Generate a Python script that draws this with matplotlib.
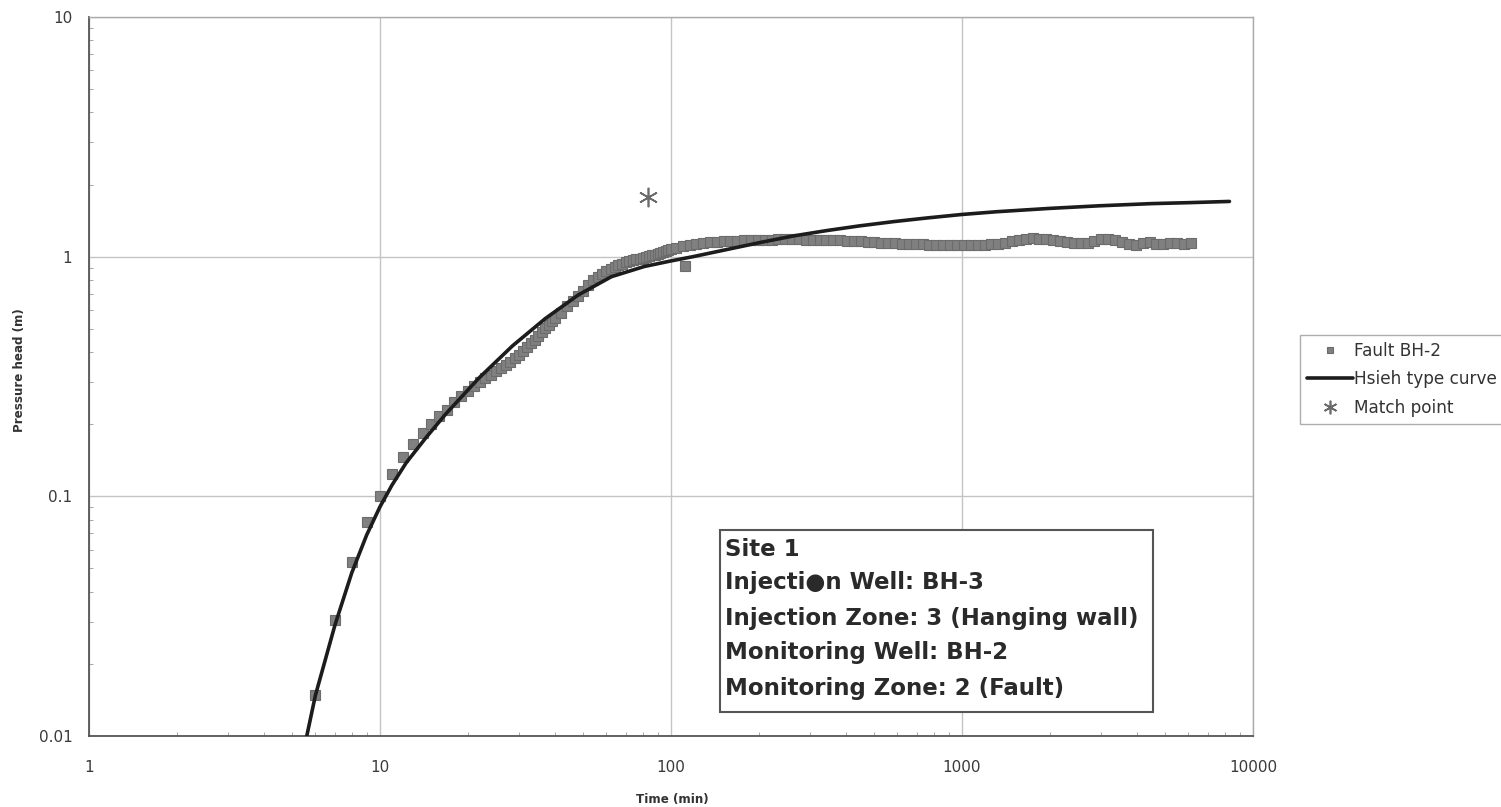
import matplotlib
matplotlib.use('Agg')
import matplotlib.pyplot as plt
from matplotlib.patches import Rectangle

fault_t = [6, 7, 8, 9, 10, 11, 12, 13, 14, 15, 16, 17, 18, 19, 20,
           21, 22, 23, 24, 25, 26, 27, 28, 29, 30, 31, 32, 33, 34, 35,
           36, 37, 38, 39, 40, 42, 44, 46, 48, 50, 52, 54, 56, 58, 60,
           62, 64, 66, 68, 70, 72, 74, 76, 78, 80, 82, 84, 86, 88, 90,
           92, 94, 96, 98, 100, 104, 110, 112, 116, 122, 129, 136, 144, 152, 160,
           169, 178, 188, 199, 210, 222, 234, 247, 261, 276, 291, 307, 324, 342, 361,
           381, 403, 425, 449, 474, 500, 528, 558, 589, 622, 657, 693, 732, 773, 816,
           862, 910, 961, 1015, 1071, 1131, 1195, 1261, 1332, 1406, 1485, 1568, 1656, 1748, 1846,
           1949, 2058, 2173, 2295, 2423, 2559, 2702, 2853, 3012, 3181, 3359, 3546, 3745, 3954, 4175,
           4409, 4655, 4916, 5190, 5481, 5787, 6100]
fault_h = [0.0148, 0.0306, 0.0532, 0.0782, 0.100, 0.124, 0.1465, 0.1655, 0.183, 0.201, 0.216, 0.230, 0.248, 0.262, 0.275,
           0.290, 0.301, 0.312, 0.322, 0.332, 0.342, 0.352, 0.365, 0.378, 0.390, 0.405, 0.420, 0.435, 0.450, 0.465,
           0.485, 0.503, 0.520, 0.540, 0.555, 0.583, 0.620, 0.655, 0.688, 0.720, 0.760, 0.800, 0.825, 0.850, 0.870,
           0.889, 0.905, 0.920, 0.935, 0.948, 0.958, 0.966, 0.974, 0.982, 0.990, 0.998, 1.005, 1.012, 1.020, 1.028,
           1.036, 1.045, 1.055, 1.065, 1.080, 1.090, 1.105, 0.910, 1.120, 1.130, 1.140, 1.150, 1.155, 1.160, 1.165,
           1.168, 1.170, 1.172, 1.174, 1.176, 1.178, 1.180, 1.180, 1.180, 1.180, 1.178, 1.176, 1.175, 1.174, 1.172,
           1.170, 1.167, 1.164, 1.160, 1.155, 1.150, 1.145, 1.140, 1.136, 1.132, 1.129, 1.126, 1.124, 1.120, 1.119,
           1.118, 1.118, 1.118, 1.119, 1.120, 1.121, 1.122, 1.124, 1.128, 1.140, 1.158, 1.175, 1.187, 1.193, 1.190,
           1.180, 1.170, 1.162, 1.150, 1.140, 1.135, 1.145, 1.165, 1.183, 1.185, 1.175, 1.150, 1.125, 1.120, 1.145,
           1.150, 1.130, 1.130, 1.145, 1.140, 1.130, 1.135]

# Hsieh type curve
curve_t = [5.5, 6.0, 7.0, 8.0, 9.0, 10.0, 11.0, 12.3, 14.4, 16.9, 21.9, 28.5, 37, 48, 62.4,
           81, 100, 119, 155, 202, 263, 343, 446, 581, 756, 1000, 1316, 2000, 2954, 4500,
           6000, 8300]
curve_h = [0.0090, 0.0148, 0.0290, 0.0480, 0.0690, 0.0905, 0.1115, 0.138, 0.176, 0.222, 0.312, 0.424, 0.552, 0.692, 0.825,
           0.910, 0.960, 1.000, 1.070, 1.145, 1.220, 1.285, 1.345, 1.400, 1.450, 1.500, 1.540, 1.590, 1.630, 1.665,
           1.680, 1.700]

# match point
match_t = [83.6]
match_h = [1.78]

x_ticks = [1, 10, 100, 1000, 10000]
x_labels = ['1', '10', '100', '1000', '10000']
y_ticks = [0.01, 0.1, 1, 10]
y_labels = ['0.01', '0.1', '1', '10']

info_lines = ['Site 1',
              'Injecti\u25cfn Well: BH-3',
              'Injection Zone: 3 (Hanging wall)',
              'Monitoring Well: BH-2',
              'Monitoring Zone: 2 (Fault)']

W, H = 1501, 807
plt.rcParams['font.family'] = ['DejaVu Sans']
fig = plt.figure(figsize=(W / 100, H / 100), dpi=100)
fig.patch.set_facecolor('white')

ax = fig.add_axes([89 / W, 1 - 736 / H, (1253 - 89) / W, (736 - 17) / H])
ax.set_xscale('log')
ax.set_yscale('log')
ax.set_xlim(1, 10000)
ax.set_ylim(0.01, 10)

ax.grid(True, which='major', color='#c4c4c4', linewidth=1.0)
ax.set_axisbelow(True)

ax.plot(fault_t, fault_h, linestyle='none', marker='s', markersize=6.6,
        markerfacecolor='#808080', markeredgecolor='#6c6c6c', markeredgewidth=0.8,
        label='Fault BH-2', zorder=3)
ax.plot(curve_t, curve_h, color='#1c1c1c', linewidth=2.6, label='Hsieh type curve',
        solid_capstyle='round', solid_joinstyle='round', zorder=4)
ax.plot(match_t, match_h, linestyle='none', marker=(6, 2, 0), markersize=14,
        markeredgecolor='#6a6a6a', markeredgewidth=1.2, label='Match point', zorder=5)

ax.set_xticks(x_ticks, labels=x_labels)
ax.set_yticks(y_ticks, labels=y_labels)
ax.tick_params(which='major', direction='in', length=0, labelsize=11, labelcolor='#3a3a3a')
ax.tick_params(axis='x', which='major', pad=17)
ax.tick_params(axis='y', which='major', pad=12)
ax.tick_params(which='minor', direction='in', length=3, color='#999999', labelleft=False, labelbottom=False)
ax.xaxis.set_minor_formatter(plt.NullFormatter())
ax.yaxis.set_minor_formatter(plt.NullFormatter())

for side in ['left', 'bottom']:
    ax.spines[side].set_color('#555555')
    ax.spines[side].set_linewidth(1.3)
for side in ['top', 'right']:
    ax.spines[side].set_color('#aaaaaa')
    ax.spines[side].set_linewidth(1.0)

fig.text(672 / W, 1 - 800 / H, 'Time (min)', ha='center', va='center',
         fontsize=8.6, fontweight='bold', color='#333333')
fig.text(20 / W, 1 - 370 / H, 'Pressure head (m)', ha='center', va='center',
         rotation=90, fontsize=8.6, fontweight='bold', color='#333333')

# legend outside on the right
fig.legend(loc='upper left', bbox_to_anchor=(1300 / W, 1 - 335 / H), borderaxespad=0,
           fontsize=12.2, frameon=True, fancybox=False, edgecolor='#999999',
           borderpad=0.4, labelspacing=0.62, handlelength=2.7, handletextpad=0.1,
           markerscale=0.7, labelcolor='#333333')

# info box
box = Rectangle((720 / W, 1 - 712 / H), (1153 - 720) / W, (712 - 530) / H,
                transform=fig.transFigure, facecolor='white', edgecolor='#555555',
                linewidth=1.5, zorder=6)
fig.patches.append(box)
row_y = [549, 583, 618, 653, 688]
for line, yy in zip(info_lines, row_y):
    fig.text(725 / W, 1 - yy / H, line, ha='left', va='center', fontsize=16.5,
             fontweight='bold', color='#2a2a2a', zorder=7)

fig.savefig('out.png', dpi=100)
